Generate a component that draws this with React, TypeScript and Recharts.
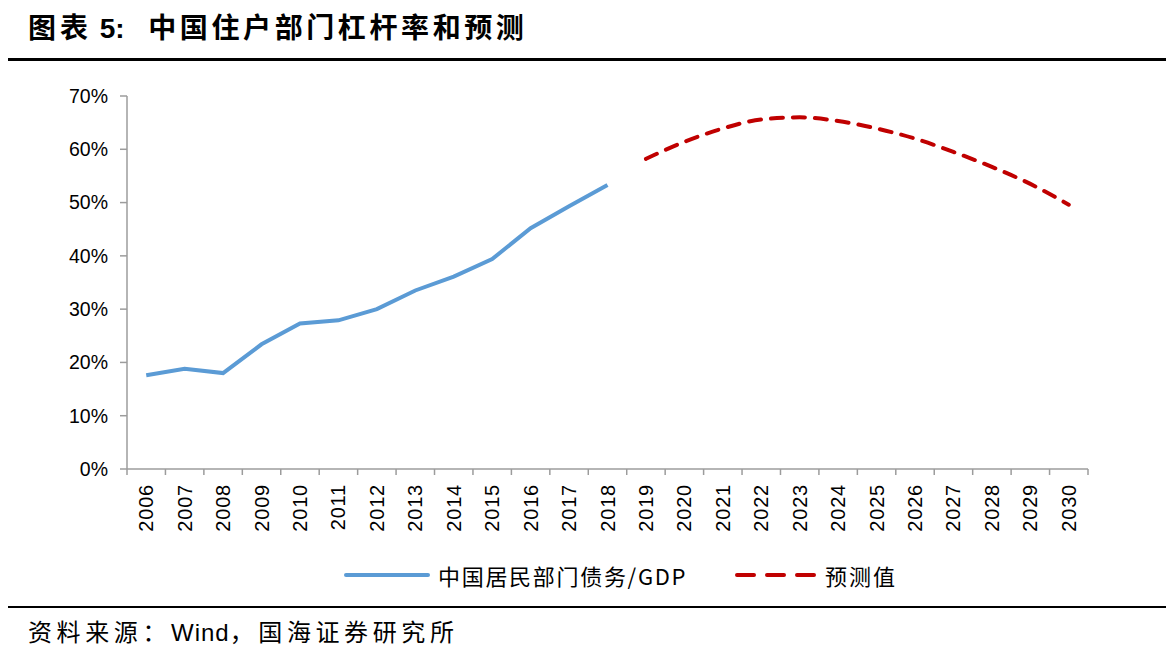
import React from "react";
import { LineChart, Line, XAxis, YAxis } from "recharts";

const years = [
  "2006", "2007", "2008", "2009", "2010", "2011", "2012", "2013", "2014",
  "2015", "2016", "2017", "2018", "2019", "2020", "2021", "2022", "2023",
  "2024", "2025", "2026", "2027", "2028", "2029", "2030",
];
// 中国居民部门债务/GDP, %
const debtToGdp = [17.6, 18.8, 18.0, 23.4, 27.3, 27.9, 30.0, 33.5, 36.1, 39.4, 45.2, 49.3, 53.3];
// 预测值, %
const forecast = [58.2, 61.4, 63.9, 65.6, 66.0, 65.3, 63.9, 62.0, 59.5, 56.7, 53.5, 49.6];
const yTicks = [0, 10, 20, 30, 40, 50, 60, 70];

const chartData = years.map((year, i) => ({
  year,
  debt: i < debtToGdp.length ? debtToGdp[i] : null,
  forecast: i >= debtToGdp.length ? forecast[i - debtToGdp.length] : null,
}));

const AXIS = "#9c9c9c";
const BLUE = "#5b9bd5";
const RED = "#c00000";
const LATIN = '"Liberation Sans", Arial, "Noto Sans CJK SC", sans-serif';
const CJK = '"Noto Sans CJK SC", "Liberation Sans", sans-serif';

const TICK_SIZE = 6;
const TICK_MARGIN = 9;

const YearTick = (props: any) => {
  const { x, y, payload, index, visibleTicksCount } = props;
  const half = payload && payload.offset ? payload.offset : 19.2;
  const axisY = y - TICK_SIZE - TICK_MARGIN;
  return (
    <g>
      <line x1={x - half} x2={x - half} y1={axisY} y2={axisY + TICK_SIZE} stroke={AXIS} strokeWidth={1.5} />
      {index === visibleTicksCount - 1 && (
        <line x1={x + half} x2={x + half} y1={axisY} y2={axisY + TICK_SIZE} stroke={AXIS} strokeWidth={1.5} />
      )}
      <text
        x={x}
        y={y}
        transform={`rotate(-90, ${x}, ${y})`}
        textAnchor="end"
        dominantBaseline="central"
        fontSize={20}
        letterSpacing={0.8}
        fontFamily={LATIN}
        fill="#000"
      >
        {payload.value}
      </text>
    </g>
  );
};

export default function App() {
  return (
    <div style={{ position: "absolute", left: 0, top: 0, width: 1174, height: 661, background: "#fff" }}>
      <div
        style={{
          position: "absolute",
          left: 28,
          top: 13,
          height: 32,
          lineHeight: "32px",
          fontSize: 28,
          fontWeight: "bold",
          fontFamily: LATIN,
          color: "#000",
          whiteSpace: "nowrap",
        }}
      >
        <span style={{ letterSpacing: 4 }}>图表</span>
        <span style={{ paddingRight: 8 }}> 5:&nbsp;&nbsp;</span>
        <span style={{ letterSpacing: 3.6 }}>中国住户部门杠杆率和预测</span>
      </div>
      <div style={{ position: "absolute", left: 8, top: 58, width: 1158, height: 3, background: "#000" }} />

      <div style={{ position: "absolute", left: 0, top: 0 }}>
        <LineChart
          width={1174}
          height={560}
          data={chartData}
          margin={{ top: 96, right: 86, bottom: 0, left: 0 }}
        >
          <XAxis
            dataKey="year"
            scale="band"
            height={91}
            interval={0}
            axisLine={{ stroke: AXIS, strokeWidth: 1.5 }}
            tickLine={false}
            tickSize={TICK_SIZE}
            tickMargin={TICK_MARGIN}
            tick={<YearTick />}
          />
          <YAxis
            width={127}
            domain={[0, 70]}
            ticks={yTicks}
            interval={0}
            tickFormatter={(v: number) => `${v}%`}
            axisLine={{ stroke: AXIS, strokeWidth: 1.5 }}
            tickLine={{ stroke: AXIS, strokeWidth: 1.5 }}
            tickSize={7}
            tickMargin={12}
            tick={{ fill: "#000", fontSize: 19.5, fontFamily: LATIN }}
          />
          <Line
            type="linear"
            dataKey="debt"
            stroke={BLUE}
            strokeWidth={4}
            dot={false}
            connectNulls={false}
            isAnimationActive={false}
          />
          <Line
            type="monotone"
            dataKey="forecast"
            stroke={RED}
            strokeWidth={4}
            strokeDasharray="12 10"
            strokeLinecap="round"
            dot={false}
            connectNulls={false}
            isAnimationActive={false}
          />
        </LineChart>
      </div>

      {/* legend */}
      <svg style={{ position: "absolute", left: 0, top: 560 }} width={1174} height={32}>
        <line x1={346} x2={428} y1={15} y2={15} stroke={BLUE} strokeWidth={4} strokeLinecap="round" />
        <line x1={737} x2={815} y1={15} y2={15} stroke={RED} strokeWidth={4} strokeDasharray="17 13" strokeLinecap="round" />
      </svg>
      <div
        style={{
          position: "absolute",
          left: 438,
          top: 560,
          height: 30,
          lineHeight: "30px",
          fontSize: 22,
          letterSpacing: 1.7,
          fontFamily: CJK,
          color: "#000",
          whiteSpace: "nowrap",
        }}
      >
        中国居民部门债务/GDP
      </div>
      <div
        style={{
          position: "absolute",
          left: 825,
          top: 560,
          height: 30,
          lineHeight: "30px",
          fontSize: 22,
          letterSpacing: 2,
          fontFamily: CJK,
          color: "#000",
          whiteSpace: "nowrap",
        }}
      >
        预测值
      </div>

      <div style={{ position: "absolute", left: 8, top: 606, width: 1158, height: 2, background: "#000" }} />
      <div
        style={{
          position: "absolute",
          left: 28,
          top: 617,
          height: 32,
          lineHeight: "32px",
          fontSize: 24,
          fontFamily: LATIN,
          color: "#000",
          whiteSpace: "nowrap",
        }}
      >
        <span style={{ letterSpacing: 4.6 }}>资料来源：</span>
        <span style={{ letterSpacing: 1 }}>Wind</span>
        <span style={{ letterSpacing: 4.6 }}>，国海证券研究所</span>
      </div>
    </div>
  );
}
